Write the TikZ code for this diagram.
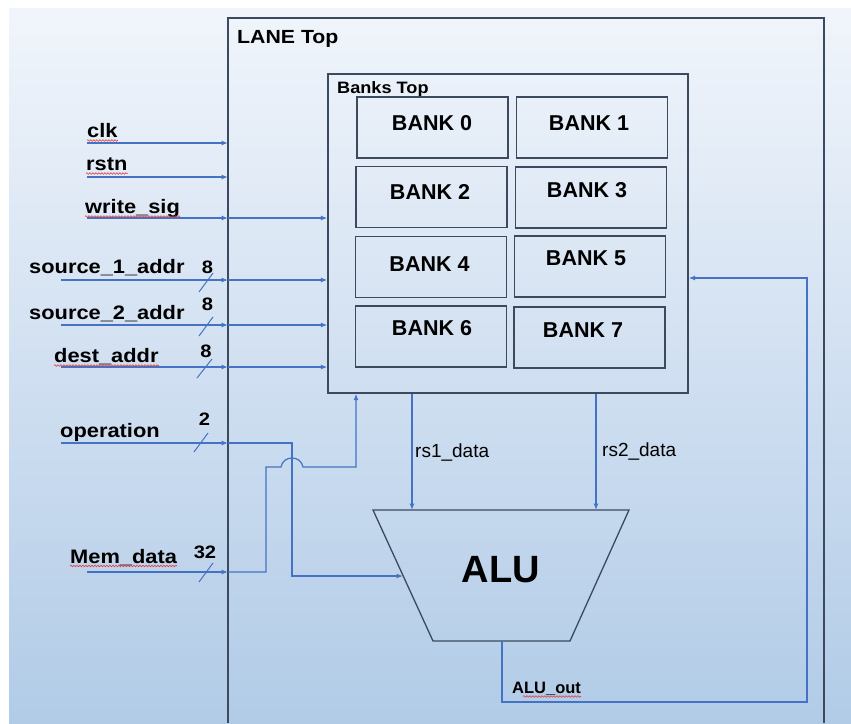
\documentclass[tikz,border=0pt]{standalone}
\usepackage{fontspec}
\setmainfont{Liberation Sans}
\newfontfamily\widefont[FakeStretch=1.12]{Liberation Sans}
\newfontfamily\midfont[FakeStretch=1.1]{Liberation Sans}
\usetikzlibrary{arrows.meta,decorations.pathmorphing}

\definecolor{wirecol}{HTML}{4472C4}
\definecolor{edgecol}{HTML}{3B4A5E}
\definecolor{bgtop}{HTML}{F1F5FB}
\definecolor{bgbot}{HTML}{B1CBE7}
\definecolor{spellcol}{HTML}{E03A3A}

\tikzset{
  wire/.style={draw=wirecol, line width=1.2pt},
  arr/.style={wire, -{Latex[length=6.5pt,width=5pt]}},
  boxline/.style={draw=edgecol, line width=1.4pt},
  bankbox/.style={boxline, rectangle, inner sep=0pt, minimum width=151pt, minimum height=61pt},
  banktxt/.style={font=\fontsize{21.5}{24}\selectfont\bfseries, inner sep=0pt, anchor=base},
  sig/.style={font=\widefont\fontsize{19.5}{21}\selectfont\bfseries, inner sep=0pt, anchor=base west},
  busw/.style={font=\widefont\fontsize{18}{20}\selectfont\bfseries, inner sep=0pt, anchor=base},
  title/.style={font=\widefont\fontsize{19}{21}\selectfont\bfseries, inner sep=0pt, anchor=base west},
  subtitle/.style={font=\midfont\fontsize{16.5}{18}\selectfont\bfseries, inner sep=0pt, anchor=base west},
  datatxt/.style={font=\fontsize{19}{21}\selectfont, inner sep=0pt, anchor=base west},
  outtxt/.style={font=\fontsize{16.5}{18}\selectfont\bfseries, inner sep=0pt, anchor=base west},
  spell/.style={draw=spellcol, line width=0.6pt, decorate,
    decoration={snake, segment length=3pt, amplitude=0.8pt}},
}

\begin{document}
\begin{tikzpicture}[x=1pt,y=-1pt]
  \useasboundingbox (0,0) rectangle (851,723);
  \fill[white] (0,0) rectangle (851,723);
  % backdrop
  \shade[top color=bgtop, bottom color=bgbot] (9,8) rectangle (851,723);

  % LANE Top outline (open at the bottom)
  \coordinate (lane-bl) at (228,723);
  \coordinate (lane-tl) at (228,18);
  \coordinate (lane-tr) at (824,18);
  \coordinate (lane-br) at (824,723);
  \draw[boxline] (lane-bl) -- (lane-tl) -- (lane-tr) -- (lane-br);
  \node[title] (lanetitle) at (237,43) {LANE Top};

  % register banks
  \node[boxline, rectangle, inner sep=0pt, minimum width=360pt, minimum height=319pt] (banks) at (508,233.5) {};
  \node[subtitle] (bankstitle) at (337,93) {Banks Top};

  \node[bankbox] (b0) at (432.5,127.5) {};
  \node[bankbox] (b1) at (592,127.5) {};
  \node[bankbox] (b2) at (431.5,197) {};
  \node[bankbox] (b3) at (591,197.5) {};
  \node[bankbox] (b4) at (431,267) {};
  \node[bankbox] (b5) at (590,266.5) {};
  \node[bankbox] (b6) at (431,336.5) {};
  \node[bankbox] (b7) at (589.5,337.5) {};
  \node[banktxt] (t0) at (432,130) {BANK 0};
  \node[banktxt] (t1) at (589,130) {BANK 1};
  \node[banktxt] (t2) at (430,199) {BANK 2};
  \node[banktxt] (t3) at (587,197) {BANK 3};
  \node[banktxt] (t4) at (429.5,271) {BANK 4};
  \node[banktxt] (t5) at (586,265) {BANK 5};
  \node[banktxt] (t6) at (432,335) {BANK 6};
  \node[banktxt] (t7) at (583,337) {BANK 7};

  % ALU
  \coordinate (alu-tl) at (373,510);
  \coordinate (alu-tr) at (629,510);
  \coordinate (alu-br) at (570,641);
  \coordinate (alu-bl) at (433,641);
  \draw[draw=edgecol, line width=1.3pt] (alu-tl) -- (alu-tr) -- (alu-br) -- (alu-bl) -- cycle;
  \node[font=\fontsize{38}{40}\selectfont\bfseries, inner sep=0pt, anchor=base] (alu) at (501,582) {ALU};

  % input labels
  \node[sig] (lclk) at (87,137) {clk};
  \node[sig] (lrst) at (86,170) {rstn};
  \node[sig] (lwr) at (85,213) {write\_sig};
  \node[sig] (ls1) at (29,273) {source\_1\_addr};
  \node[sig] (ls2) at (29,319) {source\_2\_addr};
  \node[sig] (ldst) at (54,362) {dest\_addr};
  \node[sig] (lop) at (60,437) {operation};
  \node[sig] (lmem) at (70,563) {Mem\_data};

  % bus widths
  \node[busw] (w1) at (207.5,273) {8};
  \node[busw] (w2) at (207.5,310) {8};
  \node[busw] (w3) at (206,357) {8};
  \node[busw] (w4) at (204.5,425) {2};
  \node[busw] (w5) at (205,558) {32};

  % input wire start points
  \coordinate (clk-in) at (87,143);
  \coordinate (rst-in) at (87,177);
  \coordinate (wr-in) at (87,218);
  \coordinate (s1-in) at (61,280);
  \coordinate (s2-in) at (61,325);
  \coordinate (dst-in) at (61,367);
  \coordinate (op-in) at (61,443);
  \coordinate (mem-in) at (87,572);

  % wires into LANE Top
  \foreach \p in {clk,rst,wr,s1,s2,dst,op,mem}
    \draw[arr] (\p-in) -- (\p-in -| lane-tl);
  % wires on to the banks
  \foreach \p in {wr,s1,s2,dst}
    \draw[arr] (\p-in -| lane-tl) -- (\p-in -| banks.west);

  % bus slashes
  \draw[wire, line width=1pt] (199,292) -- (213,273);
  \draw[wire, line width=1pt] (199,336) -- (213,317);
  \draw[wire, line width=1pt] (197,378) -- (212,359);
  \draw[wire, line width=1pt] (194,452) -- (208,433);
  \draw[wire, line width=1pt] (199,582) -- (213,563);

  % operation to the ALU
  \coordinate (op-turn) at (292,443);
  \coordinate (op-low) at (292,576);
  \draw[arr] (op-in -| lane-tl) -- (op-turn) -- (op-low) -- (403,576);

  % Mem_data to the banks, hopping over the operation wire
  \coordinate (mem-turn) at (266,572);
  \coordinate (mem-up) at (266,467);
  \coordinate (mem-top) at (356,467);
  \draw[arr] (mem-in -| lane-tl) -- (mem-turn) -- (mem-up) -- (281,467)
    .. controls (283,455) and (301,455) .. (303,467) -- (mem-top) -- (mem-top |- banks.south);

  % bank read ports to the ALU
  \draw[arr] (banks.south -| 412,0) -- (412,510);
  \draw[arr] (banks.south -| 596,0) -- (596,510);
  \node[datatxt] (lrs1) at (415,457) {rs1\_data};
  \node[datatxt] (lrs2) at (602,456) {rs2\_data};

  % ALU result back to the banks
  \coordinate (out-top) at (502,641);
  \coordinate (out-low) at (502,702);
  \coordinate (out-right) at (807,702);
  \coordinate (out-up) at (807,278);
  \draw[arr] (out-top) -- (out-low) -- (out-right) -- (out-up) -- (out-up -| banks.east);
  \node[outtxt] (lout) at (512,693) {ALU\_out};

  % spell-check squiggles
  \draw[spell] ([yshift=-3.5pt]lclk.base west) -- ([yshift=-3.5pt]lclk.base east);
  \draw[spell] ([yshift=-3.5pt]lrst.base west) -- ([yshift=-3.5pt]lrst.base east);
  \draw[spell] ([yshift=-3.5pt]lwr.base west) -- ([yshift=-3.5pt]lwr.base east);
  \draw[spell] ([yshift=-3.5pt]ldst.base west) -- ([yshift=-3.5pt]ldst.base east);
  \draw[spell] ([yshift=-3pt]lmem.base west) -- ([yshift=-3pt]lmem.base east);
  \draw[spell] ([xshift=11pt,yshift=-3.5pt]lout.base west) -- ([yshift=-3.5pt]lout.base east);
\end{tikzpicture}
\end{document}
